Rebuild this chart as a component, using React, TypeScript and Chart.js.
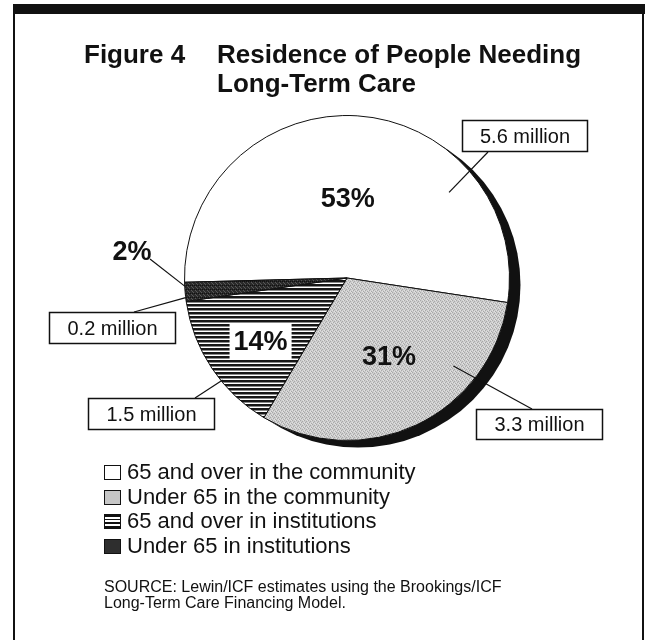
import React, { useEffect, useRef } from 'react';
import { Chart, registerables } from 'chart.js';

Chart.register(...registerables);

// ---------- data ----------
const categories = [
  '65 and over in the community',
  'Under 65 in the community',
  '65 and over in institutions',
  'Under 65 in institutions',
];
const millions = [5.6, 3.3, 1.5, 0.2];
const percentLabels = ['53%', '31%', '14%', '2%'];
const millionLabels = ['5.6 million', '3.3 million', '1.5 million', '0.2 million'];
const titleLead = 'Figure 4';
const titleLines = ['Residence of People Needing', 'Long-Term Care'];
const sourceLines = [
  'SOURCE: Lewin/ICF estimates using the Brookings/ICF',
  'Long-Term Care Financing Model.',
];

// ---------- layout / style ----------
const FONT = '"Liberation Sans", Arial, Helvetica, sans-serif';
const INK = '#111';
const ROTATION = 268.5;
const SHADOW = { dx: 11, dy: 7 };
// percent labels: fraction along slice, radius fraction (or outside text + leader)
const PCT_LAYOUT = [
  { f: 0.484, rf: 0.49 },
  { f: 0.475, rf: 0.55 },
  { f: 0.45, rf: 0.66, boxed: true },
  { outside: { x: 132, y: 253 }, from: { x: 150, y: 259 }, f: 0.8, rf: 1.0 },
];
// callout boxes: [x, y, w, h], line start, anchor (fraction along slice, radius fraction)
const CALLOUTS = [
  { box: [462, 120, 126, 32], from: [488, 152], f: 0.744, rf: 0.82 },
  { box: [476, 409, 127, 31], from: [532, 409], f: 0.276, rf: 0.85 },
  { box: [88, 398, 127, 32], from: [195, 398], f: 0.39, rf: 0.99 },
  { box: [49, 312, 127, 32], from: [134, 312], f: 0.2, rf: 1.0 },
];

function angleAt(p: any, f: number) {
  return p.startAngle + (p.endAngle - p.startAngle) * f;
}

const shadowPlugin = {
  id: 'pieShadow',
  beforeDatasetsDraw(chart: any) {
    const arc = chart.getDatasetMeta(0).data[0];
    if (!arc) return;
    const p = arc.getProps(['x', 'y', 'outerRadius'], true);
    const c = chart.ctx;
    c.save();
    c.fillStyle = INK;
    c.beginPath();
    c.arc(p.x + SHADOW.dx, p.y + SHADOW.dy, p.outerRadius, 0, Math.PI * 2);
    c.fill();
    c.restore();
  },
};

const annotationPlugin = {
  id: 'pieAnnotations',
  afterDatasetsDraw(chart: any) {
    const c = chart.ctx;
    const arcs = chart.getDatasetMeta(0).data;
    c.save();
    // callouts
    arcs.forEach((arc: any, i: number) => {
      const p = arc.getProps(['x', 'y', 'startAngle', 'endAngle', 'outerRadius'], true);
      const co = CALLOUTS[i];
      const a = angleAt(p, co.f);
      const ax = p.x + Math.cos(a) * p.outerRadius * co.rf;
      const ay = p.y + Math.sin(a) * p.outerRadius * co.rf;
      c.strokeStyle = INK;
      c.lineWidth = 1.2;
      c.beginPath();
      c.moveTo(co.from[0], co.from[1]);
      c.lineTo(ax, ay);
      c.stroke();
      const [bx, by, bw, bh] = co.box;
      c.fillStyle = '#fff';
      c.fillRect(bx, by, bw, bh);
      c.lineWidth = 1.5;
      c.strokeRect(bx + 0.5, by + 0.5, bw - 1, bh - 1);
      c.fillStyle = INK;
      c.font = `20px ${FONT}`;
      c.textAlign = 'center';
      c.textBaseline = 'middle';
      c.fillText(millionLabels[i], bx + bw / 2, by + bh / 2 + 1);
    });
    // percent labels
    arcs.forEach((arc: any, i: number) => {
      const p = arc.getProps(['x', 'y', 'startAngle', 'endAngle', 'outerRadius'], true);
      const L: any = PCT_LAYOUT[i];
      c.font = `bold 27px ${FONT}`;
      c.textAlign = 'center';
      c.textBaseline = 'middle';
      if (L.outside) {
        const a = angleAt(p, L.f);
        const ax = p.x + Math.cos(a) * p.outerRadius * L.rf;
        const ay = p.y + Math.sin(a) * p.outerRadius * L.rf;
        c.strokeStyle = INK;
        c.lineWidth = 1.2;
        c.beginPath();
        c.moveTo(L.from.x, L.from.y);
        c.lineTo(ax, ay);
        c.stroke();
        c.fillStyle = INK;
        c.fillText(percentLabels[i], L.outside.x, L.outside.y);
        return;
      }
      const a = angleAt(p, L.f);
      const tx = p.x + Math.cos(a) * p.outerRadius * L.rf;
      const ty = p.y + Math.sin(a) * p.outerRadius * L.rf;
      if (L.boxed) {
        const w = c.measureText(percentLabels[i]).width + 8;
        c.fillStyle = '#fff';
        c.fillRect(tx - w / 2, ty - 18, w, 36);
      }
      c.fillStyle = INK;
      c.fillText(percentLabels[i], tx, ty + 1);
    });
    c.restore();
  },
};

const swatchStyles: React.CSSProperties[] = [
  { background: '#fff' },
  { background: '#c6c6c6' },
  { background: 'repeating-linear-gradient(to bottom, #111 0px, #111 2px, #fff 2px, #fff 3.5px)' },
  { background: '#2e2e2e' },
];

export default function App() {
  const canvasRef = useRef<HTMLCanvasElement>(null);

  useEffect(() => {
    const canvas = canvasRef.current!;
    const ctx = canvas.getContext('2d')!;
    const mk = (w: number, h: number, draw: (g: CanvasRenderingContext2D) => void) => {
      const pc = document.createElement('canvas');
      pc.width = w;
      pc.height = h;
      const g = pc.getContext('2d')!;
      draw(g);
      return ctx.createPattern(pc, 'repeat')!;
    };
    const grayPat = mk(4, 4, (g) => {
      g.fillStyle = '#cdcdcd';
      g.fillRect(0, 0, 4, 4);
      g.fillStyle = '#a8a8a8';
      [[0, 0], [2, 1], [1, 2], [3, 3]].forEach(([x, y]) => g.fillRect(x, y, 1, 1));
      g.fillStyle = '#e2e2e2';
      [[2, 3], [0, 2], [3, 0]].forEach(([x, y]) => g.fillRect(x, y, 1, 1));
    });
    const stripePat = mk(4, 4, (g) => {
      g.fillStyle = '#fff';
      g.fillRect(0, 0, 4, 4);
      g.fillStyle = '#161616';
      g.fillRect(0, 0, 4, 2);
      g.fillStyle = '#8a8a8a';
      g.fillRect(0, 2, 4, 1);
    });
    const darkPat = mk(4, 4, (g) => {
      g.fillStyle = '#2a2a2a';
      g.fillRect(0, 0, 4, 4);
      g.fillStyle = '#575757';
      [[1, 0], [3, 2], [0, 3]].forEach(([x, y]) => g.fillRect(x, y, 1, 1));
      g.fillStyle = '#111';
      [[2, 1], [0, 1]].forEach(([x, y]) => g.fillRect(x, y, 1, 1));
    });

    const chart = new Chart(canvas, {
      type: 'pie',
      data: {
        labels: categories,
        datasets: [
          {
            data: millions,
            backgroundColor: ['#ffffff', grayPat, stripePat, darkPat] as any,
            borderColor: INK,
            borderWidth: 1,
            hoverOffset: 0,
          },
        ],
      },
      options: {
        animation: false,
        responsive: true,
        maintainAspectRatio: false,
        rotation: ROTATION,
        layout: { padding: { left: 184, right: 142, top: 115, bottom: 199 } },
        plugins: {
          legend: { display: false },
          tooltip: { enabled: false },
          title: { display: false },
        },
      },
      plugins: [shadowPlugin, annotationPlugin],
    });
    return () => chart.destroy();
  }, []);

  return (
    <div
      style={{
        position: 'absolute',
        left: 0,
        top: 0,
        width: 652,
        height: 640,
        background: '#fff',
        overflow: 'hidden',
        fontFamily: FONT,
        color: INK,
      }}
    >
      {/* frame */}
      <div style={{ position: 'absolute', left: 13, top: 4, width: 632, height: 10, background: INK }} />
      <div style={{ position: 'absolute', left: 13, top: 4, width: 2, height: 640, background: INK }} />
      <div style={{ position: 'absolute', left: 642, top: 4, width: 2, height: 640, background: INK }} />

      <div style={{ position: 'absolute', left: 0, top: 0, width: 652, height: 640 }}>
        <canvas ref={canvasRef} />
      </div>

      {/* title */}
      <div style={{ position: 'absolute', left: 84, top: 40, fontSize: 26, fontWeight: 'bold', lineHeight: '29px' }}>
        {titleLead}
      </div>
      <div style={{ position: 'absolute', left: 217, top: 40, fontSize: 26, fontWeight: 'bold', lineHeight: '29px', whiteSpace: 'nowrap' }}>
        {titleLines.map((t) => (
          <div key={t}>{t}</div>
        ))}
      </div>

      {/* legend */}
      <div style={{ position: 'absolute', left: 104, top: 460, fontSize: 22, lineHeight: '24.7px' }}>
        {categories.map((cat, i) => (
          <div key={cat} style={{ display: 'flex', alignItems: 'center', whiteSpace: 'nowrap' }}>
            <span
              style={{
                display: 'inline-block',
                width: 17,
                height: 15,
                border: `1.5px solid ${INK}`,
                marginRight: 6,
                boxSizing: 'border-box',
                ...swatchStyles[i],
              }}
            />
            <span>{cat}</span>
          </div>
        ))}
      </div>

      {/* source */}
      <div style={{ position: 'absolute', left: 104, top: 579, fontSize: 16, lineHeight: '16px', whiteSpace: 'nowrap' }}>
        {sourceLines.map((t) => (
          <div key={t}>{t}</div>
        ))}
      </div>
    </div>
  );
}
